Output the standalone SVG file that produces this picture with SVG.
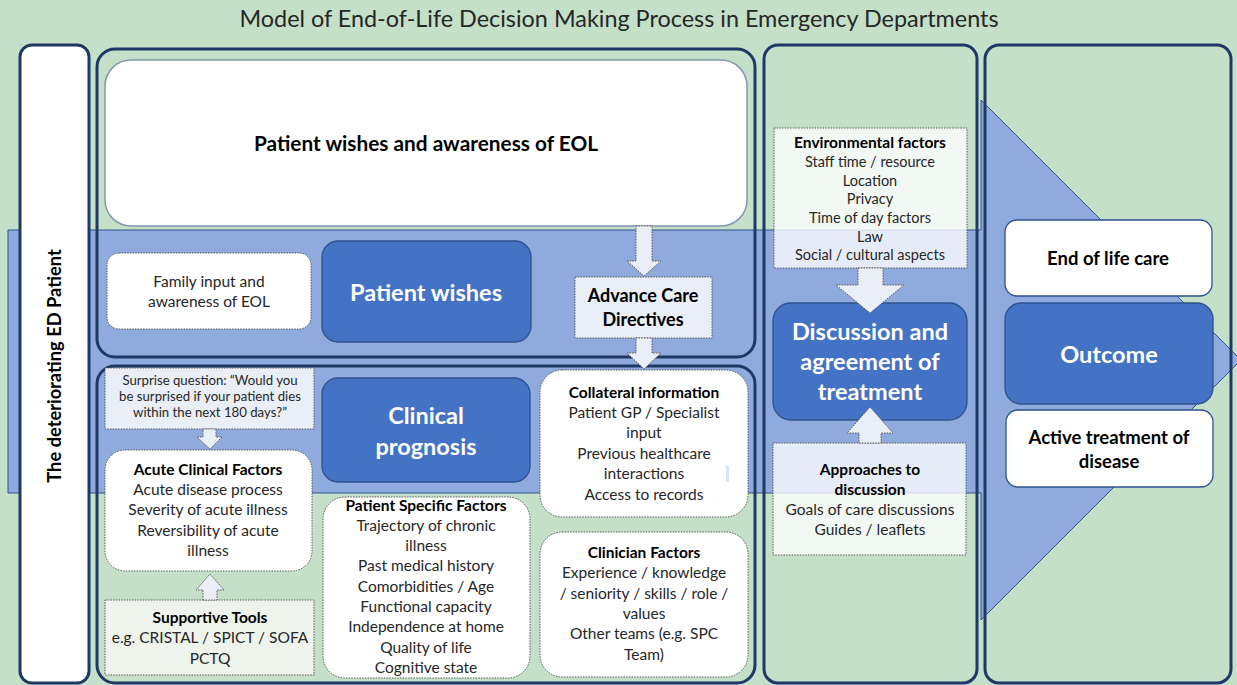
<svg xmlns="http://www.w3.org/2000/svg" width="1237" height="685" viewBox="0 0 1237 685">
  <style>
    .t{font-family:Lato,"Liberation Sans",sans-serif;fill:#262626;text-anchor:middle;font-size:15.5px}
    .b{font-weight:bold;fill:#000}
    .w{fill:#fff;font-weight:bold;font-size:23.5px}
    .h{font-size:18.5px}
    .frame{fill:none;stroke:#1F3864;stroke-width:3}
    .dot{stroke:#595959;stroke-width:1;stroke-dasharray:1.5 1.2}
    .wbox{fill:#fff}
    .pale{fill:#fff;fill-opacity:0.78}
    .blue{fill:#4472C4;stroke:#2F528F;stroke-width:1.3}
    .solid{fill:#fff;stroke:#2F528F;stroke-width:1.3}
    .blk{fill:#E9EEF7;stroke:#595959;stroke-width:1;stroke-dasharray:1.5 1.2}
  </style>

  <!-- background -->
  <rect width="1237" height="685" fill="#C5E0C8"/>

  <!-- title -->
  <text class="t" x="619" y="27" style="font-size:23.4px">Model of End-of-Life Decision Making Process in Emergency Departments</text>

  <!-- big process arrow -->
  <path d="M8,230 H981 V100 L1241,360 L981,620 V493 H8 Z" fill="#8FAADC" stroke="#2F528F" stroke-width="1"/>

  <!-- column frames -->
  <g id="patient-column">
    <rect x="20" y="45" width="69" height="638" rx="12" fill="#fff" stroke="#1F3864" stroke-width="3"/>
    <text class="t b" transform="translate(61,366) rotate(-90)" style="font-size:18.3px">The deteriorating ED Patient</text>
  </g>
  <rect id="wishes-frame" class="frame" x="97" y="49" width="658" height="308" rx="18"/>
  <rect id="prognosis-frame" class="frame" x="97" y="366" width="658" height="317" rx="18"/>
  <rect id="discussion-frame" class="frame" x="764" y="45" width="213" height="638" rx="14"/>
  <rect id="outcome-frame" class="frame" x="985" y="45" width="246" height="638" rx="14"/>

  <!-- patient wishes section -->
  <g id="eol-awareness">
    <rect x="105" y="60" width="642" height="166" rx="26" fill="#fff" stroke="#8496B0" stroke-width="1.5"/>
    <text class="t b" x="426" y="151" style="font-size:20.8px">Patient wishes and awareness of EOL</text>
  </g>
  <g id="family-input">
    <rect class="wbox dot" x="107" y="253" width="204" height="76" rx="12"/>
    <text class="t" x="209" y="287">Family input and</text>
    <text class="t" x="209" y="307">awareness of EOL</text>
  </g>
  <g id="patient-wishes">
    <rect class="blue" x="322" y="241" width="209" height="101" rx="16"/>
    <text class="t w" x="426" y="301">Patient wishes</text>
  </g>
  <g id="advance-care">
    <rect class="blk" x="575" y="277" width="137" height="61"/>
    <text class="t b" x="643" y="302" style="font-size:18px">Advance Care</text>
    <text class="t b" x="643" y="326" style="font-size:18px">Directives</text>
  </g>

  <!-- clinical prognosis section -->
  <g id="surprise-question">
    <rect class="blk" x="105" y="368" width="209" height="61"/>
    <text class="t" x="210" y="385" style="font-size:13.2px">Surprise question: “Would you</text>
    <text class="t" x="210" y="401" style="font-size:13.2px">be surprised if your patient dies</text>
    <text class="t" x="210" y="417" style="font-size:13.2px">within the next 180 days?”</text>
  </g>
  <g id="acute-factors">
    <rect class="wbox dot" x="105" y="450" width="207" height="121" rx="20"/>
    <text class="t b" x="208" y="475">Acute Clinical  Factors</text>
    <text class="t" x="208" y="495">Acute disease process</text>
    <text class="t" x="208" y="515">Severity of acute illness</text>
    <text class="t" x="208" y="536">Reversibility of acute</text>
    <text class="t" x="208" y="556">illness</text>
  </g>
  <g id="supportive-tools">
    <rect class="dot" x="105" y="600" width="209" height="75" fill="#EEF4EC"/>
    <text class="t b" x="210" y="623">Supportive Tools</text>
    <text class="t" x="210" y="643">e.g. CRISTAL / SPICT / SOFA</text>
    <text class="t" x="210" y="664">PCTQ</text>
  </g>
  <g id="clinical-prognosis">
    <rect class="blue" x="322" y="378" width="208" height="104" rx="16"/>
    <text class="t w" x="426" y="424">Clinical</text>
    <text class="t w" x="426" y="455">prognosis</text>
  </g>
  <g id="patient-factors">
    <rect class="wbox dot" x="323" y="497" width="207" height="181" rx="22"/>
    <text class="t b" x="426" y="511">Patient Specific Factors</text>
    <text class="t" x="426" y="531">Trajectory of chronic</text>
    <text class="t" x="426" y="551">illness</text>
    <text class="t" x="426" y="571">Past medical history</text>
    <text class="t" x="426" y="592">Comorbidities / Age</text>
    <text class="t" x="426" y="612">Functional capacity</text>
    <text class="t" x="426" y="632">Independence at home</text>
    <text class="t" x="426" y="653">Quality of life</text>
    <text class="t" x="426" y="673">Cognitive state</text>
  </g>
  <g id="collateral-info">
    <rect class="wbox dot" x="540" y="370" width="208" height="147" rx="22"/>
    <text class="t b" x="644" y="398">Collateral information</text>
    <text class="t" x="644" y="418">Patient GP / Specialist</text>
    <text class="t" x="644" y="438">input</text>
    <text class="t" x="644" y="459">Previous healthcare</text>
    <text class="t" x="644" y="479">interactions</text>
    <text class="t" x="644" y="500">Access to records</text>
    <rect x="726" y="466" width="3" height="16" fill="#DCE4F2"/>
  </g>
  <g id="clinician-factors">
    <rect class="wbox dot" x="540" y="532" width="208" height="145" rx="22"/>
    <text class="t b" x="644" y="558">Clinician  Factors</text>
    <text class="t" x="644" y="578">Experience / knowledge</text>
    <text class="t" x="644" y="599">/ seniority / skills / role /</text>
    <text class="t" x="644" y="619">values</text>
    <text class="t" x="644" y="639">Other teams (e.g. SPC</text>
    <text class="t" x="644" y="660">Team)</text>
  </g>

  <!-- discussion section -->
  <g id="environmental-factors">
    <rect class="pale dot" x="774" y="128" width="193" height="140"/>
    <text class="t b" x="870" y="148" style="font-size:15.5px">Environmental factors</text>
    <text class="t" x="870" y="167" style="font-size:14.5px">Staff time / resource</text>
    <text class="t" x="870" y="186" style="font-size:14.5px">Location</text>
    <text class="t" x="870" y="204" style="font-size:14.5px">Privacy</text>
    <text class="t" x="870" y="223" style="font-size:14.5px">Time of day factors</text>
    <text class="t" x="870" y="242" style="font-size:14.5px">Law</text>
    <text class="t" x="870" y="260" style="font-size:14.5px">Social / cultural aspects</text>
  </g>
  <g id="discussion">
    <rect class="blue" x="773" y="303" width="194" height="117" rx="18"/>
    <text class="t w" x="870" y="340">Discussion and</text>
    <text class="t w" x="870" y="370">agreement of</text>
    <text class="t w" x="870" y="400">treatment</text>
  </g>
  <g id="approaches">
    <rect class="pale dot" x="773" y="443" width="193" height="112"/>
    <text class="t b" x="870" y="475">Approaches to</text>
    <text class="t b" x="870" y="495">discussion</text>
    <text class="t" x="870" y="515">Goals of care discussions</text>
    <text class="t" x="870" y="535">Guides / leaflets</text>
  </g>

  <!-- outcome section -->
  <g id="end-of-life-care">
    <rect class="solid" x="1005" y="220" width="207" height="76" rx="12"/>
    <text class="t b h" x="1108" y="265">End of life care</text>
  </g>
  <g id="outcome">
    <rect class="blue" x="1005" y="303" width="208" height="101" rx="16"/>
    <text class="t w" x="1109" y="363">Outcome</text>
  </g>
  <g id="active-treatment">
    <rect class="solid" x="1006" y="410" width="207" height="77" rx="12"/>
    <text class="t b h" x="1109" y="444">Active treatment of</text>
    <text class="t b h" x="1109" y="468">disease</text>
  </g>

  <!-- block arrows -->
  <g id="connectors">
    <polygon class="blk" points="636,226 652,226 652,261 661,261 644,276 627,261 636,261"/>
    <polygon class="blk" points="636,338 652,338 652,353 661,353 644,369 627,353 636,353"/>
    <polygon class="blk" points="203,429 216,429 216,437 222,437 210,449 197,437 203,437"/>
    <polygon class="blk" points="203,600 217,600 217,590 224,590 210,574 196,590 203,590"/>
    <polygon class="blk" points="858,268 883,268 883,285 904,285 870,313 836,285 858,285"/>
    <polygon class="blk" points="859,443 881,443 881,433 893,433 870,407 847,433 859,433"/>
  </g>
</svg>
